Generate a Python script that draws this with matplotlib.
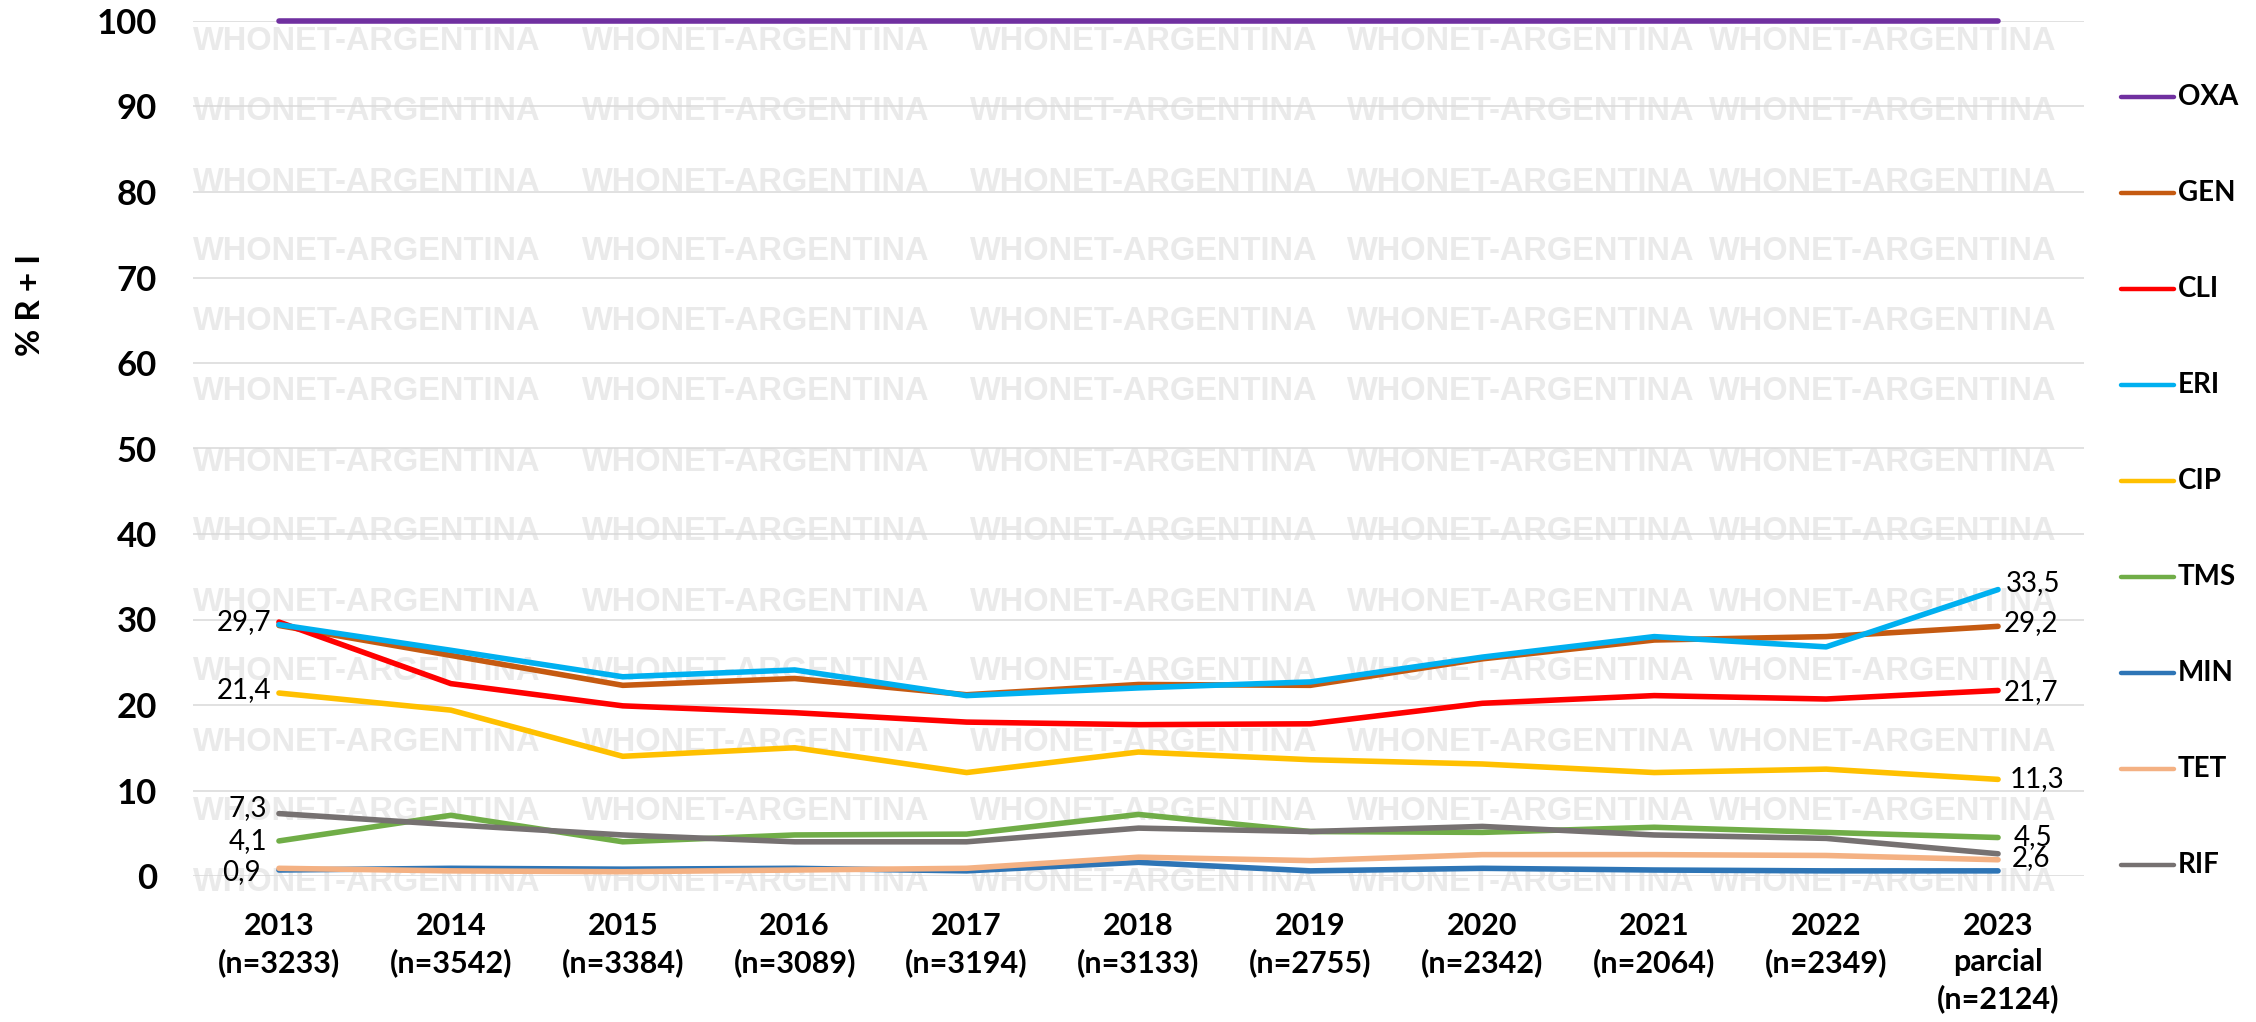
import matplotlib
matplotlib.use("Agg")
import matplotlib.pyplot as plt
from matplotlib.lines import Line2D

plt.rcParams['font.family'] = ['Lato', 'DejaVu Sans']

# data
years = ['2013\n(n=3233)', '2014\n(n=3542)', '2015\n(n=3384)', '2016\n(n=3089)',
         '2017\n(n=3194)', '2018\n(n=3133)', '2019\n(n=2755)', '2020\n(n=2342)',
         '2021\n(n=2064)', '2022\n(n=2349)', '2023\nparcial\n(n=2124)']

oxa = [100, 100, 100, 100, 100, 100, 100, 100, 100, 100, 100]
gen = [29.3, 25.8, 22.3, 23.1, 21.2, 22.4, 22.3, 25.4, 27.6, 28.0, 29.2]
cli = [29.7, 22.5, 19.9, 19.1, 18.0, 17.7, 17.8, 20.2, 21.1, 20.7, 21.7]
eri = [29.4, 26.4, 23.3, 24.1, 21.1, 22.0, 22.7, 25.6, 28.0, 26.8, 33.5]
cip = [21.4, 19.4, 14.0, 15.0, 12.1, 14.5, 13.6, 13.1, 12.1, 12.5, 11.3]
tms = [4.1, 7.1, 4.0, 4.8, 4.9, 7.2, 5.2, 5.1, 5.7, 5.1, 4.5]
mino = [0.7, 0.9, 0.8, 0.9, 0.6, 1.6, 0.6, 0.9, 0.7, 0.6, 0.6]
tet = [0.9, 0.6, 0.5, 0.7, 0.9, 2.2, 1.8, 2.5, 2.5, 2.4, 1.9]
rif = [7.3, 6.0, 4.8, 4.0, 4.0, 5.6, 5.2, 5.8, 4.8, 4.4, 2.6]

names = ['OXA', 'GEN', 'CLI', 'ERI', 'CIP', 'TMS', 'MIN', 'TET', 'RIF']
series = [oxa, gen, cli, eri, cip, tms, mino, tet, rif]
colors = ['#7030A0', '#C55A11', '#FF0000', '#00B0F0', '#FFC000',
          '#70AD47', '#2E75B6', '#F4B183', '#767171']

W, H = 2256, 1022
fig = plt.figure(figsize=(W / 100, H / 100), dpi=100)
ax = fig.add_axes([193 / W, 1 - 876 / H, (2084 - 193) / W, (876 - 21) / H])
ax.set_zorder(1)
ax.patch.set_visible(False)

# watermark grid
wm_x = [193, 582, 970, 1347, 1709]
for r in range(13):
    y = 42 + 70 * r
    for x in wm_x:
        fig.text(x / W, 1 - y / H, 'WHONET-ARGENTINA', fontsize=23.5, weight='bold',
                 family='Liberation Sans', color='#EAEAEA', ha='left', va='center',
                 zorder=0)

x = list(range(len(years)))
for name, vals, c in zip(names, series, colors):
    ax.plot(x, vals, color=c, lw=4, clip_on=False, solid_capstyle='round', zorder=3)

ax.set_xlim(-0.5, 10.5)
ax.set_ylim(0, 100)
ax.set_yticks(range(0, 101, 10))
ax.grid(axis='y', color='#D9D9D9', lw=1.1, zorder=1)
ax.set_axisbelow(True)
for s in ax.spines.values():
    s.set_visible(False)
ax.set_xticks(x)
ax.set_xticklabels(years, fontsize=22, weight='bold', linespacing=1.35)
ax.tick_params(axis='x', length=0, pad=26)
ax.tick_params(axis='y', length=0, pad=26, labelsize=25)
for t in ax.get_yticklabels():
    t.set_fontweight('bold')

fig.text(30 / W, 1 - 305 / H, '% R + I', rotation=90, fontsize=24, weight='bold',
         ha='center', va='center')

# value labels: (series index, point index, dx px, dy px)
labels = [(2, 0, -8, 0), (4, 0, -8, 3), (8, 0, -12, 6), (5, 0, -12, 0), (7, 0, -18, -4),
          (3, 10, 8, 7), (1, 10, 6, 3), (2, 10, 6, -2), (4, 10, 12, 0),
          (5, 10, 16, 0), (8, 10, 14, -4)]
for si, pi, dx, dy in labels:
    v = series[si][pi]
    ax.annotate(f'{v:.1f}'.replace('.', ','), (pi, v), xytext=(dx * 0.72, dy * 0.72),
                textcoords='offset points', ha='right' if dx < 0 else 'left',
                va='center', fontsize=20, zorder=4, annotation_clip=False)

# legend on the right
for i, (name, c) in enumerate(zip(names, colors)):
    y = 1 - (97 + 96 * i) / H
    fig.add_artist(Line2D([2121 / W, 2174 / W], [y, y], transform=fig.transFigure,
                          color=c, lw=3.2, solid_capstyle='round'))
    fig.text(2178 / W, y, name, fontsize=20, weight='bold', ha='left', va='center')

fig.savefig('out.png', dpi=100)
